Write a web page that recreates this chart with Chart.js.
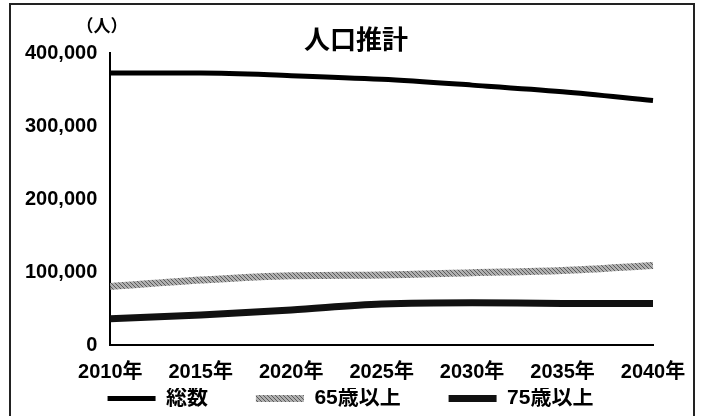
<!DOCTYPE html>
<html>
<head>
<meta charset="utf-8">
<script src="https://cdn.jsdelivr.net/npm/chart.js@4"></script>
<style>
  body { margin: 0; background: #fff; }
  #wrap { position: relative; width: 707px; height: 416px; overflow: hidden; }
  #frame { position: absolute; left: 9px; top: 3px; width: 686px; height: 430px; border: 2px solid #222; box-sizing: border-box; pointer-events: none; }
  canvas { position: absolute; left: 0; top: 0; }
</style>
</head>
<body>
<div id="wrap">
  <canvas id="chart" width="707" height="416"></canvas>
  <div id="frame"></div>
</div>
<script>
const years = ['2010年', '2015年', '2020年', '2025年', '2030年', '2035年', '2040年'];
const total = [372500, 372500, 369000, 364000, 356000, 347000, 335000];
const over65 = [80000, 89000, 95000, 96000, 99000, 102000, 109000];
const over75 = [36000, 41000, 48000, 56000, 58000, 57000, 57000];
const yTicks = [0, 100000, 200000, 300000, 400000];

const fontFamily = '"Liberation Sans", "Noto Sans CJK JP", sans-serif';

// hatched grey stroke for the 65+ line
const makeHatch = () => {
    const c = document.createElement('canvas');
    c.width = 4; c.height = 4;
    const g = c.getContext('2d');
    g.fillStyle = '#b0b0b0';
    g.fillRect(0, 0, 4, 4);
    g.fillStyle = '#5a5a5a';
    g.fillRect(0, 0, 1, 1);
    g.fillRect(1, 1, 1, 1);
    g.fillRect(2, 2, 1, 1);
    g.fillRect(3, 3, 1, 1);
    return g.createPattern(c, 'repeat');
};
const hatch = makeHatch();

const labelsPlugin = {
    id: 'labels',
    afterLayout(chart) {
        // nudge the legend a little right, like the original
        chart.legend.left += 18;
        chart.legend.right += 18;
    },
    afterDraw(chart) {
        const ctx = chart.ctx;
        ctx.save();
        ctx.fillStyle = '#000';
        ctx.textAlign = 'center';
        ctx.textBaseline = 'middle';
        ctx.font = 'bold 26px ' + fontFamily;
        ctx.fillText('人口推計', 356, 42);
        ctx.font = 'bold 17px ' + fontFamily;
        ctx.fillText('（人）', 102, 27);
        ctx.restore();
    }
};

new Chart(document.getElementById('chart'), {
    type: 'line',
    data: {
        labels: years,
        datasets: [
            { label: '総数', data: total, borderColor: '#000', backgroundColor: '#000', borderWidth: 5 },
            { label: '65歳以上', data: over65, borderColor: hatch, backgroundColor: hatch, borderWidth: 7 },
            { label: '75歳以上', data: over75, borderColor: '#111', backgroundColor: '#111', borderWidth: 7 }
        ]
    },
    options: {
        responsive: false,
        animation: false,
        layout: { padding: { top: 53, right: 54, left: 12, bottom: -3 } },
        elements: {
            point: { radius: 0 },
            line: { tension: 0.4, cubicInterpolationMode: 'monotone' }
        },
        scales: {
            x: {
                offset: false,
                grid: { display: false, drawTicks: true, tickLength: 11 },
                border: { display: true, color: '#000', width: 2 },
                ticks: { color: '#000', font: { family: fontFamily, size: 20, weight: 'bold' }, padding: 4, maxRotation: 0 }
            },
            y: {
                min: 0,
                max: 400000,
                afterBuildTicks: axis => { axis.ticks = yTicks.map(v => ({ value: v })); },
                grid: { display: false, drawTicks: false },
                border: { display: true, color: '#000', width: 2 },
                ticks: {
                    color: '#000',
                    font: { family: fontFamily, size: 20, weight: 'bold' },
                    padding: 13,
                    callback: v => v.toLocaleString('en-US')
                }
            }
        },
        plugins: {
            legend: {
                position: 'bottom',
                labels: {
                    usePointStyle: true,
                    pointStyle: 'line',
                    pointStyleWidth: 48,
                    color: '#000',
                    font: { family: fontFamily, size: 21, weight: 'bold', lineHeight: 1 },
                    padding: 0,
                    generateLabels: chart => {
                        const items = Chart.defaults.plugins.legend.labels.generateLabels(chart);
                        return items.map((l, i) => ({ ...l, text: i < items.length - 1 ? l.text + '\u3000\u3000 ' : l.text }));
                    }
                }
            },
            tooltip: { enabled: false }
        }
    },
    plugins: [labelsPlugin]
});
</script>
</body>
</html>
